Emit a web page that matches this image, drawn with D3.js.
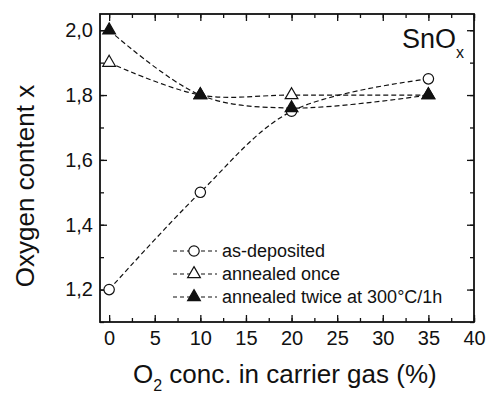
<!DOCTYPE html>
<html>
<head>
<meta charset="utf-8">
<title>SnOx oxygen content</title>
<script src="https://d3js.org/d3.v7.min.js"></script>
<style>
  body { margin: 0; background: #fff; }
  text { font-family: Arial, "Liberation Sans", sans-serif; fill: #111; }
</style>
</head>
<body>
<svg width="486" height="396"></svg>
<script>
// data
var o2 = [0, 10, 20, 35];
var asDeposited = [1.20, 1.50, 1.75, 1.85];
var annealedOnce = [1.90, 1.80, 1.80, 1.80];
var annealedTwice = [2.00, 1.80, 1.76, 1.80];
var seriesNames = ["as-deposited", "annealed once", "annealed twice at 300°C/1h"];
var xTicks = [0, 5, 10, 15, 20, 25, 30, 35, 40];
var yTicks = [1.2, 1.4, 1.6, 1.8, 2.0];

var svg = d3.select("svg"),
    margin = { top: 14, right: 12, bottom: 74, left: 100 },
    width = +svg.attr("width") - margin.left - margin.right,
    height = +svg.attr("height") - margin.top - margin.bottom,
    g = svg.append("g")
        .attr("transform", "translate(" + margin.left + "," + margin.top + ")");

var x = d3.scaleLinear().domain([-1, 40]).range([0, width]);
var y = d3.scaleLinear().domain([1.1, 2.05]).range([height, 0]);

var fmt = function (d) { return d3.format(".1f")(d).replace(".", ","); };

// axes, ticks pointing inward
var xMinor = d3.range(0, 40.01, 2.5);
var yMinor = d3.range(1.1, 2.05, 0.1);

function tickStyle(sel) {
    sel.select(".domain").remove();
    sel.selectAll("line").attr("stroke", "#111").attr("stroke-width", 1.3);
}

g.append("g").attr("transform", "translate(0," + height + ")")
    .call(d3.axisBottom(x).tickValues(xMinor).tickSize(-4).tickFormat(""))
    .call(tickStyle);
g.append("g").attr("transform", "translate(0," + height + ")")
    .call(d3.axisBottom(x).tickValues(xTicks).tickSize(-7).tickPadding(9))
    .call(tickStyle)
    .selectAll("text").style("font-size", "20px");
g.append("g")
    .call(d3.axisTop(x).tickValues(xMinor).tickSize(-4).tickFormat(""))
    .call(tickStyle);
g.append("g")
    .call(d3.axisTop(x).tickValues(xTicks).tickSize(-7).tickFormat(""))
    .call(tickStyle);

g.append("g")
    .call(d3.axisLeft(y).tickValues(yMinor).tickSize(-4).tickFormat(""))
    .call(tickStyle);
g.append("g")
    .call(d3.axisLeft(y).tickValues(yTicks).tickSize(-7).tickPadding(7).tickFormat(fmt))
    .call(tickStyle)
    .selectAll("text").style("font-size", "20px");
g.append("g").attr("transform", "translate(" + width + ",0)")
    .call(d3.axisRight(y).tickValues(yMinor).tickSize(-4).tickFormat(""))
    .call(tickStyle);
g.append("g").attr("transform", "translate(" + width + ",0)")
    .call(d3.axisRight(y).tickValues(yTicks).tickSize(-7).tickFormat(""))
    .call(tickStyle);

g.append("rect")
    .attr("width", width).attr("height", height)
    .attr("fill", "none").attr("stroke", "#111").attr("stroke-width", 1.8);

// series
var series = [
    { name: seriesNames[0], values: asDeposited, marker: "circle", fill: "#fff" },
    { name: seriesNames[1], values: annealedOnce, marker: "triangle", fill: "#fff" },
    { name: seriesNames[2], values: annealedTwice, marker: "triangle", fill: "#111" }
];

var line = d3.line()
    .x(function (d) { return x(d[0]); })
    .y(function (d) { return y(d[1]); })
    .curve(d3.curveCatmullRom.alpha(0.5));

function symbolFor(s) {
    return s.marker === "circle"
        ? d3.symbol().type(d3.symbolCircle).size(85)
        : d3.symbol().type(d3.symbolTriangle).size(70);
}

series.forEach(function (s) {
    var pts = o2.map(function (v, i) { return [v, s.values[i]]; });
    g.append("path")
        .attr("d", line(pts))
        .attr("fill", "none")
        .attr("stroke", "#111")
        .attr("stroke-width", 1.2)
        .attr("stroke-dasharray", "5,3");
});

series.forEach(function (s) {
    var pts = o2.map(function (v, i) { return [v, s.values[i]]; });
    g.selectAll(null).data(pts).enter().append("path")
        .attr("d", symbolFor(s)())
        .attr("transform", function (d) { return "translate(" + x(d[0]) + "," + y(d[1]) + ")"; })
        .attr("fill", s.fill)
        .attr("stroke", "#111")
        .attr("stroke-width", 1.2);
});

// legend
var legend = g.append("g").attr("transform", "translate(73,237)");
series.forEach(function (s, i) {
    var row = legend.append("g").attr("transform", "translate(0," + (i * 23) + ")");
    row.append("line")
        .attr("x1", 0).attr("x2", 44)
        .attr("stroke", "#111").attr("stroke-width", 1.2)
        .attr("stroke-dasharray", "4,3");
    row.append("path")
        .attr("d", symbolFor(s)())
        .attr("transform", "translate(21,0)")
        .attr("fill", s.fill)
        .attr("stroke", "#111").attr("stroke-width", 1.2);
    row.append("text")
        .attr("x", 49).attr("dy", "0.35em")
        .style("font-size", "18px")
        .text(s.name);
});

// SnOx label
var lab = svg.append("text")
    .attr("x", 402).attr("y", 48)
    .style("font-size", "27px");
lab.append("tspan").text("SnO");
lab.append("tspan").attr("dy", 10).style("font-size", "16px").text("x");

// axis titles
svg.append("text")
    .attr("transform", "translate(34,186) rotate(-90)")
    .attr("text-anchor", "middle")
    .style("font-size", "26px")
    .text("Oxygen content x");

var xl = svg.append("text")
    .attr("x", 133).attr("y", 383)
    .style("font-size", "26px");
xl.append("tspan").text("O");
xl.append("tspan").attr("dy", 8).style("font-size", "16px").text("2");
xl.append("tspan").attr("dy", -8).text(" conc. in carrier gas (%)");
</script>
</body>
</html>
